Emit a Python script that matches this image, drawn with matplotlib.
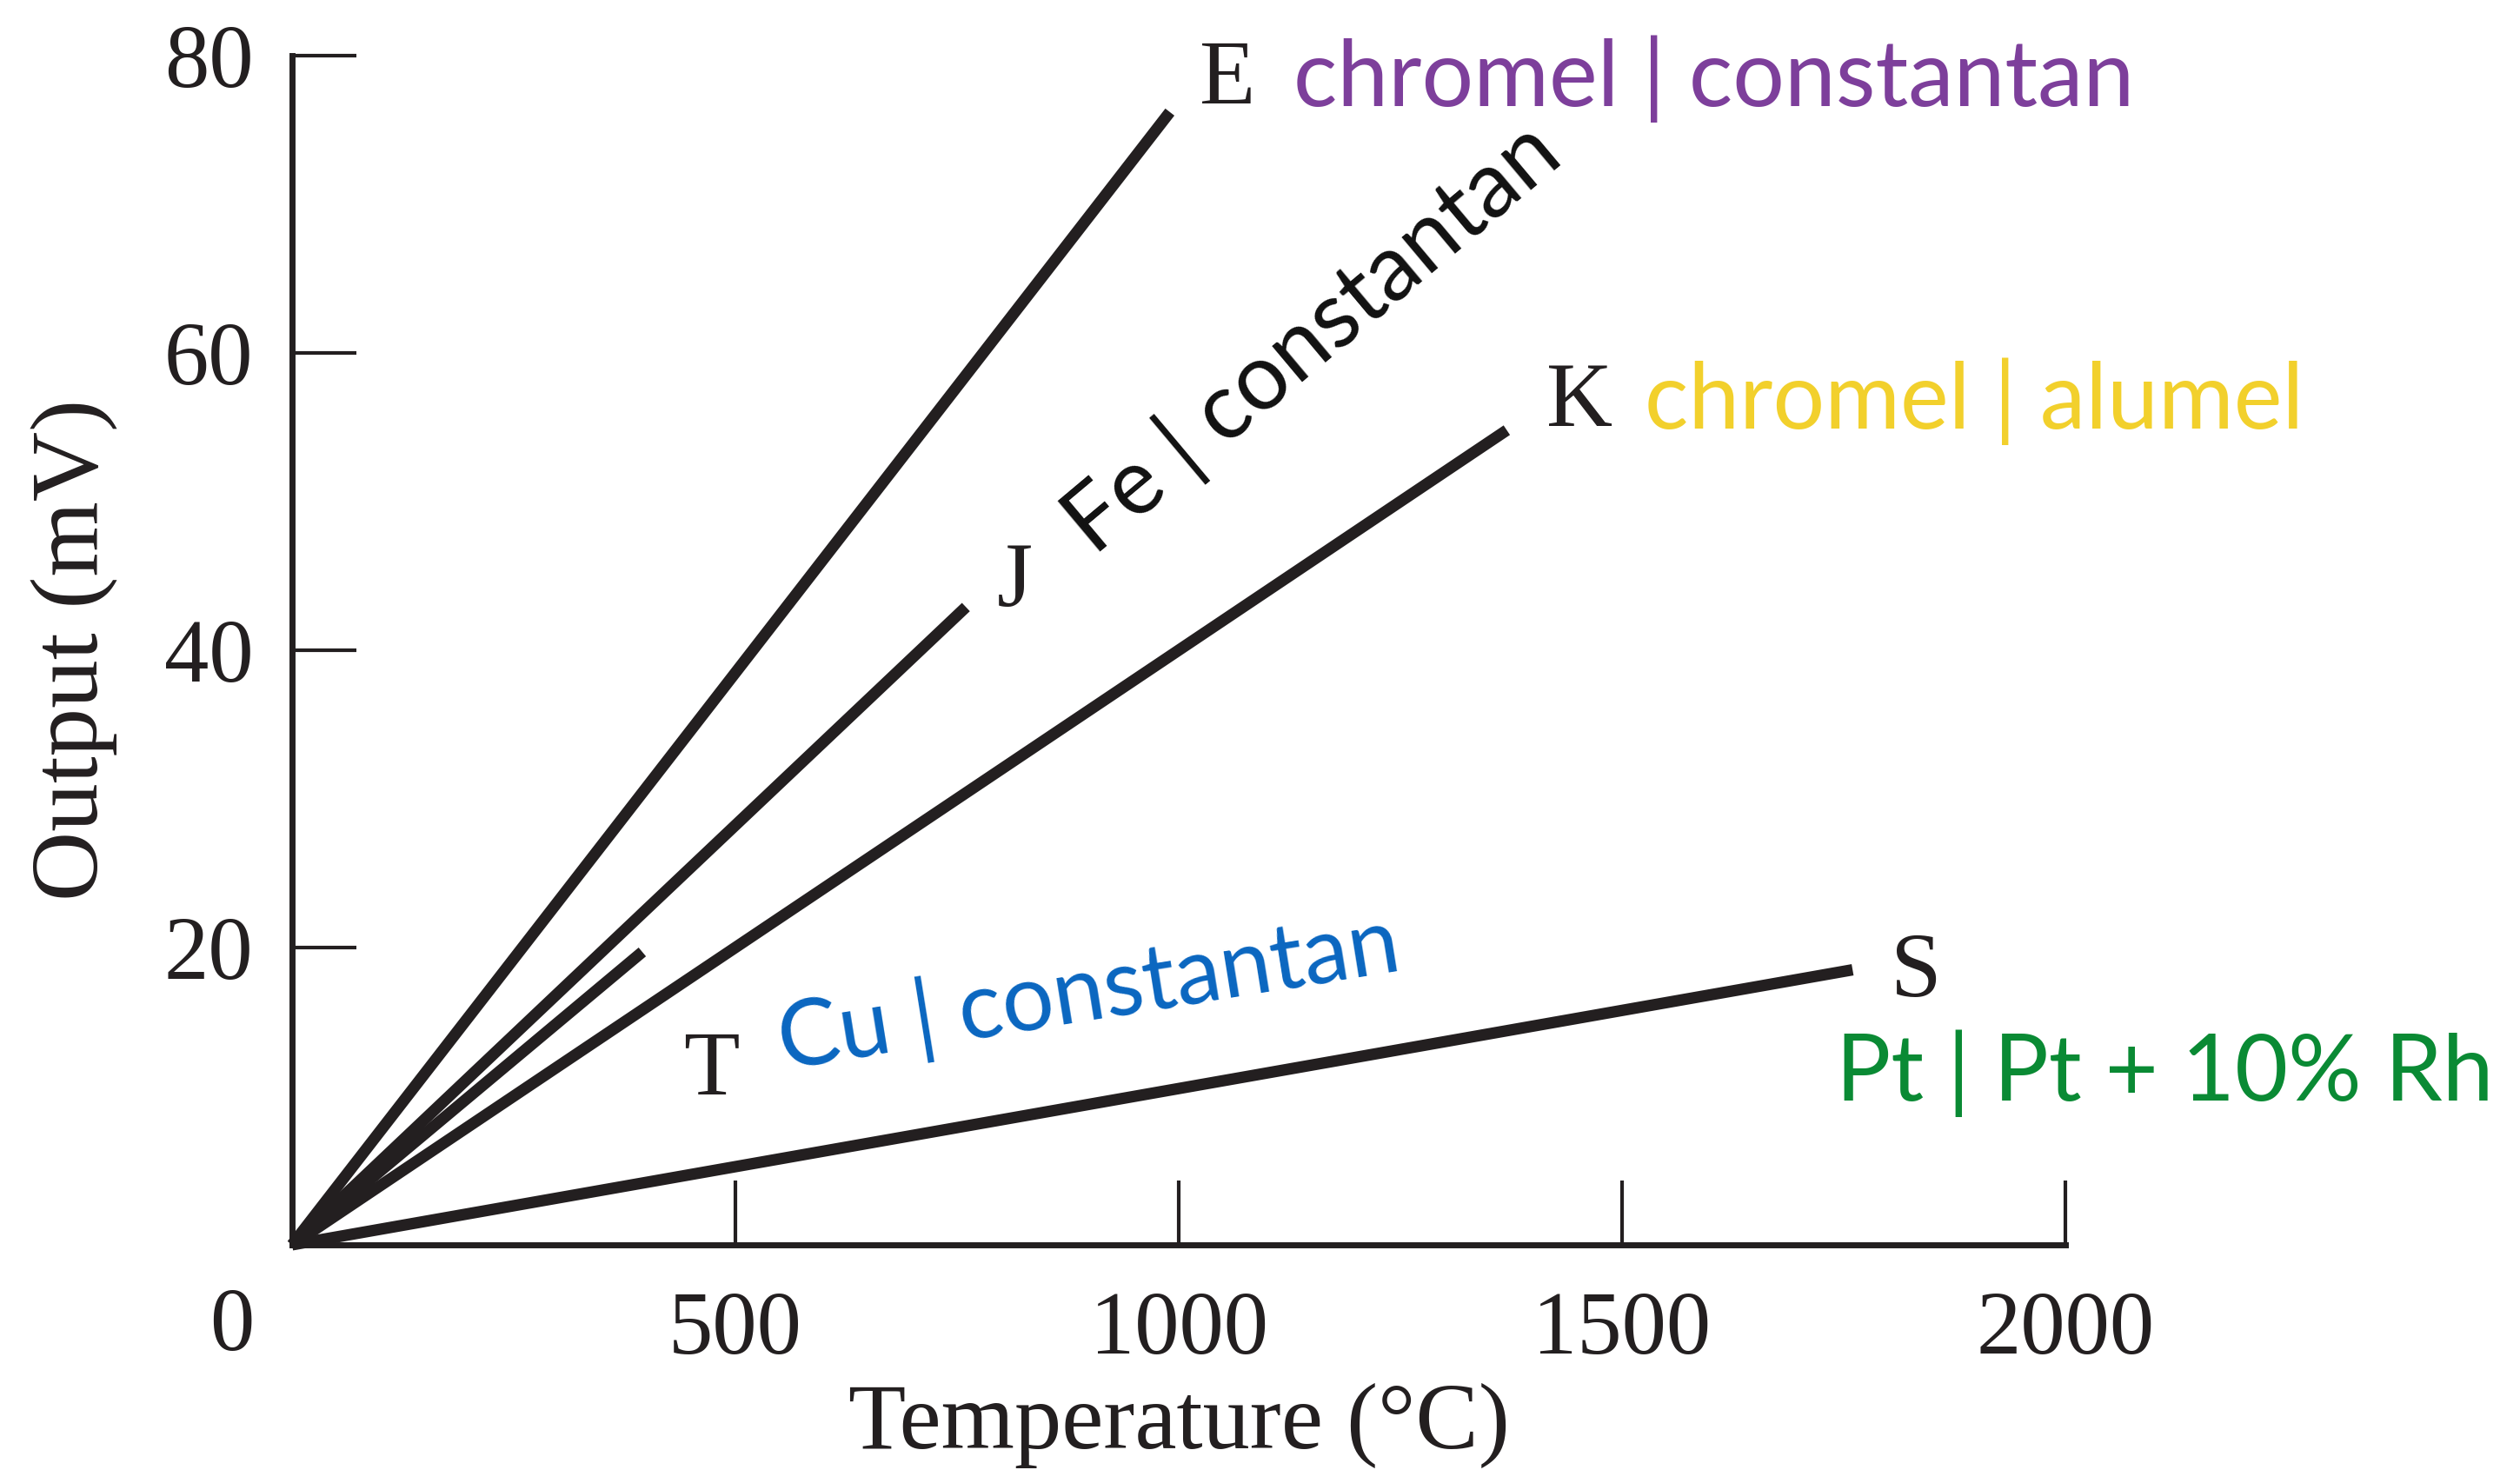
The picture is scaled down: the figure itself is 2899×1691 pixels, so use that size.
import matplotlib
matplotlib.use("Agg")
import matplotlib.pyplot as plt
from matplotlib import font_manager

# thermocouple output curves (end points)
types = ['E', 'J', 'T', 'K', 'S']
temp_end = [990, 760, 395, 1370, 1760]      # deg C
mv_end = [76.2, 42.9, 19.7, 54.8, 18.5]     # mV

# type letter positions (data coords, left/baseline)
letter_x = [1024, 795, 441, 1415, 1803]
letter_y = [76.8, 43.0, 10.1, 55.1, 16.7]

# material labels
mat_text = ['chromel | constantan', 'Fe | constantan', 'Cu | constantan',
            'chromel | alumel', 'Pt | Pt + 10% Rh']
mat_x = [1129, 905, 554, 1525, 1741]
mat_y = [76.6, 46.3, 11.8, 54.9, 9.7]
mat_rot = [0, 40, 9.1, 0, 0]
mat_color = ['#7d3f9b', '#111111', '#0a66c0', '#f2d02c', '#0a8a34']

xticks = [500, 1000, 1500, 2000]
yticks = [20, 40, 60, 80]

installed = {f.name for f in font_manager.fontManager.ttflist}
sans = 'Lato' if 'Lato' in installed else 'DejaVu Sans'
serif = 'Liberation Serif' if 'Liberation Serif' in installed else 'DejaVu Serif'

ink = '#231f20'

fig = plt.figure(figsize=(28.99, 16.91), dpi=100)
ax = fig.add_axes([0.1159, 0.1532, 0.7037, 0.809])

for t, m in zip(temp_end, mv_end):
    ax.plot([0, t], [0, m], color=ink, lw=9.5, solid_capstyle='butt', clip_on=False)

ax.set_xlim(0, 2000)
ax.set_ylim(0, 80)
ax.spines['top'].set_visible(False)
ax.spines['right'].set_visible(False)
for s in ['left', 'bottom']:
    ax.spines[s].set_linewidth(5)
    ax.spines[s].set_color(ink)

ax.set_xticks(xticks)
ax.set_yticks(yticks)
ax.set_xticklabels([str(v) for v in xticks], fontfamily=serif, fontsize=74)
ax.set_yticklabels([str(v) for v in yticks], fontfamily=serif, fontsize=74)
ax.tick_params(axis='both', direction='in', length=53, width=3, color=ink, labelcolor=ink)
ax.tick_params(axis='x', pad=38)
ax.tick_params(axis='y', pad=32)

# lone zero at the corner
ax.text(-68, -5.6, '0', ha='center', va='center', fontfamily=serif,
        fontsize=74, color=ink, clip_on=False)

ax.set_xlabel('Temperature (°C)', fontfamily=serif, fontsize=78, color=ink, va='center')
ax.xaxis.set_label_coords(0.5, -0.152)
ax.set_ylabel('Output (mV)', fontfamily=serif, fontsize=80, color=ink, va='center')
ax.yaxis.set_label_coords(-0.1225, 0.5)

for lab, x, y in zip(types, letter_x, letter_y):
    ax.text(x, y, lab, ha='left', va='baseline', fontfamily=serif,
            fontsize=76, color=ink, clip_on=False)

for txt, x, y, r, c in zip(mat_text, mat_x, mat_y, mat_rot, mat_color):
    ax.text(x, y, txt, ha='left', va='baseline', rotation=r, rotation_mode='anchor',
            fontfamily=sans, fontsize=76, color=c, clip_on=False)

fig.savefig('out.png', dpi=100, facecolor='white')
